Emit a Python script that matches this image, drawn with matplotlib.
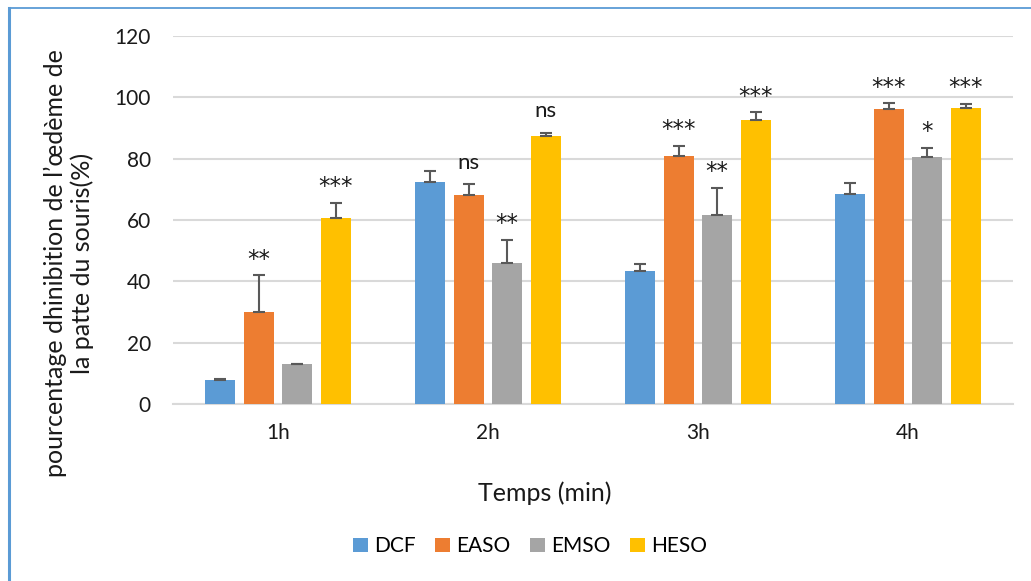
import numpy as np
import matplotlib
matplotlib.use("Agg")
import matplotlib.pyplot as plt
from matplotlib.lines import Line2D

plt.rcParams['font.family'] = ['Lato', 'DejaVu Sans']

# data
times = ["1h", "2h", "3h", "4h"]
groups = ["DCF", "EASO", "EMSO", "HESO"]
colors = ["#5B9BD5", "#ED7D31", "#A5A5A5", "#FFC000"]

dcf = [7.8, 72.3, 43.4, 68.6]
easo = [29.9, 68.3, 80.8, 96.3]
emso = [12.9, 46.0, 61.6, 80.4]
heso = [60.5, 87.5, 92.6, 96.6]

dcf_err = [0.5, 3.8, 2.1, 3.6]
easo_err = [12.1, 3.5, 3.3, 1.7]
emso_err = [0.3, 7.5, 8.9, 3.1]
heso_err = [5.0, 1.0, 2.5, 1.2]

easo_sig = ["**", "ns", "***", "***"]
emso_sig = ["", "**", "**", "*"]
heso_sig = ["***", "ns", "***", "***"]

values = [dcf, easo, emso, heso]
errors = [dcf_err, easo_err, emso_err, heso_err]
sigs = [None, easo_sig, emso_sig, heso_sig]

fig = plt.figure(figsize=(10.31, 5.81), dpi=100)
ax = fig.add_axes([0.1678, 0.3046, 0.8147, 0.6334])

x = np.arange(len(times))
step = 0.183
width = 0.143

for i, (name, vals, errs, col) in enumerate(zip(groups, values, errors, colors)):
    pos = x + (i - 1.5) * step
    ax.bar(pos, vals, width, color=col, label=name, zorder=3)
    ax.errorbar(pos, vals, yerr=[np.zeros(len(vals)), errs], fmt='none',
                ecolor='#595959', elinewidth=1.5, capsize=4.3, capthick=1.5, zorder=4)
    if sigs[i] is not None:
        for p, v, e, s in zip(pos, vals, errs, sigs[i]):
            if s == "ns":
                ax.annotate(s, (p, v + e), xytext=(0, 11), textcoords='offset points',
                            ha='center', va='baseline', fontsize=16, color='#1a1a1a')
            elif s:
                ax.annotate(s, (p, v + e), xytext=(0, 7), textcoords='offset points',
                            ha='center', va='baseline', fontsize=16.5, color='#1a1a1a',
                            family='DejaVu Sans')

ax.set_ylim(0, 120)
ax.set_xlim(-0.5, 3.5)
ax.set_yticks(range(0, 121, 20))
ax.set_xticks(x)
ax.set_xticklabels(times)
ax.tick_params(axis='both', length=0, labelsize=15, colors='#1a1a1a')
ax.tick_params(axis='y', pad=16)
ax.tick_params(axis='x', pad=14)
ax.grid(axis='y', color='#D9D9D9', linewidth=1.5, zorder=0)
for s in ['top', 'right', 'left']:
    ax.spines[s].set_visible(False)
ax.spines['bottom'].set_color('#D9D9D9')
ax.spines['bottom'].set_linewidth(1.5)

fig.text(0.067, 0.547, "pourcentage dhinibition de l\u2019\u0153d\u00e8me de\nla patte du souris(%)",
         rotation=90, ha='center', va='center', fontsize=18, linespacing=1.2, color='#1a1a1a')
fig.text(0.5286, 0.151, "Temps (min)", ha='center', va='center', fontsize=18, color='#1a1a1a')

fig.legend(loc='center', bbox_to_anchor=(0.514, 0.06), ncol=4, frameon=False,
           fontsize=15, handlelength=0.7, handleheight=0.7, columnspacing=0.95, handletextpad=0.3)

# border of the chart box (left and top only visible)
fig.add_artist(Line2D([8.5 / 1031, 8.5 / 1031], [0, 1 - 7.5 / 581], color='#5B9BD5', lw=2.2,
                      transform=fig.transFigure))
fig.add_artist(Line2D([8.5 / 1031, 1], [1 - 7.5 / 581, 1 - 7.5 / 581], color='#5B9BD5', lw=1.3,
                      transform=fig.transFigure))

fig.savefig("out.png", dpi=100)
